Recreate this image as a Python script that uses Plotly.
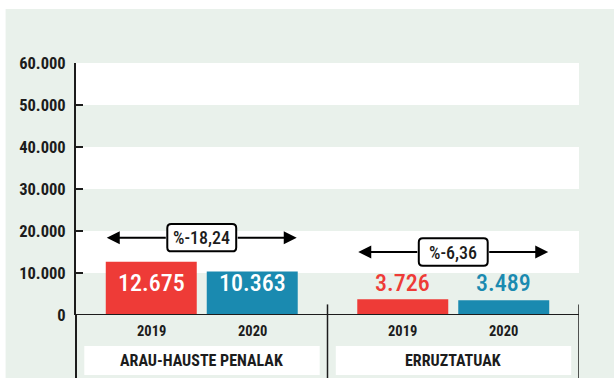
import plotly.graph_objects as go

# --- data ---------------------------------------------------------------
groups = ["ARAU-HAUSTE PENALAK", "ERRUZTATUAK"]
years = ["2019", "2020"]
values_2019 = [12675, 3726]
values_2020 = [10363, 3489]
y_ticks = [0, 10000, 20000, 30000, 40000, 50000, 60000]

# --- styling --------------------------------------------------------------
RED = "#ee3b37"
BLUE = "#1a8ab0"
BG = "#e9f1eb"
INK = "#1c1c1c"
NARROW = "Roboto Condensed, Liberation Sans Narrow, sans-serif"

BARGAP = 0.197
BARGROUPGAP = 0.099
slot = (1 - BARGAP) / 2          # width of one year's slot inside a group
half_bar_span = slot - slot * BARGROUPGAP / 2  # group centre -> outer bar edge

arrow_y = [18400, 15000]          # height of the change arrows per group
label_y = 7700                    # height of the value labels

fmt_thousands = lambda v: f"{v:,}".replace(",", ".")

x_pos = list(range(len(groups)))

fig = go.Figure()
fig.add_trace(go.Bar(x=x_pos, y=values_2019, name=years[0],
                     marker=dict(color=RED, line=dict(width=0)),
                     hoverinfo="skip"))
fig.add_trace(go.Bar(x=x_pos, y=values_2020, name=years[1],
                     marker=dict(color=BLUE, line=dict(width=0)),
                     hoverinfo="skip"))

shapes = []
annotations = []

# page background (white strip along the top/left edge)
shapes.append(dict(type="rect", xref="paper", yref="paper",
                   x0=-0.14, x1=1.08, y0=-0.26, y1=1.214,
                   fillcolor=BG, line=dict(width=0), layer="below"))

# alternating white bands
for lo, hi in zip(y_ticks[1::2], y_ticks[2::2]):
    shapes.append(dict(type="rect", xref="paper", yref="y",
                       x0=0, x1=1, y0=lo, y1=hi,
                       fillcolor="white", line=dict(width=0), layer="below"))

# axis extension, baseline and group separators
shapes.append(dict(type="line", xref="paper", yref="paper",
                   x0=0, x1=0, y0=0, y1=-0.26,
                   line=dict(color=INK, width=2)))
shapes.append(dict(type="line", xref="paper", yref="y",
                   x0=0, x1=1, y0=0, y1=0,
                   line=dict(color=INK, width=2)))
for xs in [0.5, 1.5]:
    shapes.append(dict(type="line", xref="x", yref="paper",
                       x0=xs, x1=xs, y0=0.042, y1=-0.26,
                       line=dict(color=INK, width=1.5)))


def rounded_rect(x0, x1, y0, y1, rx, ry):
    return (f"M {x0 + rx},{y0} L {x1 - rx},{y0} Q {x1},{y0} {x1},{y0 + ry} "
            f"L {x1},{y1 - ry} Q {x1},{y1} {x1 - rx},{y1} "
            f"L {x0 + rx},{y1} Q {x0},{y1} {x0},{y1 - ry} "
            f"L {x0},{y0 + ry} Q {x0},{y0} {x0 + rx},{y0} Z")


box_hw = 0.137   # half width of the percentage box (x units)
box_hh = 3250    # half height of the percentage box (y units)

for i, g in enumerate(groups):
    v19, v20 = values_2019[i], values_2020[i]
    inside = i == 0

    # value labels and year labels
    for j, (v, col) in enumerate([(v19, RED), (v20, BLUE)]):
        cx = i + (j - 0.5) * slot
        annotations.append(dict(x=cx, y=label_y, xref="x", yref="y",
                                text=fmt_thousands(v), showarrow=False,
                                yanchor="middle",
                                font=dict(family=NARROW, size=24,
                                          weight=500,
                                          color="white" if inside else col)))
        annotations.append(dict(x=cx, y=-0.067, xref="x", yref="paper",
                                text=f"<b>{years[j]}</b>", showarrow=False,
                                yanchor="middle",
                                font=dict(family=NARROW, size=14.5, color=INK)))

    # category label box
    shapes.append(dict(type="rect", xref="x", yref="paper",
                       x0=i - 0.467, x1=i + 0.469, y0=-0.238, y1=-0.123,
                       fillcolor="white", line=dict(width=0)))
    annotations.append(dict(x=i, y=-0.18, xref="x", yref="paper",
                            text=f"<b>{g}</b>", showarrow=False,
                            yanchor="middle",
                            font=dict(family=NARROW, size=16, color=INK)))

    # change arrows with percentage box
    ay = arrow_y[i]
    pct = (v20 - v19) / v19 * 100
    for side in (-1, 1):
        annotations.append(dict(x=i + side * (half_bar_span - 0.004), y=ay,
                                ax=i + side * box_hw, ay=ay,
                                xref="x", yref="y", axref="x", ayref="y",
                                text="", showarrow=True, arrowhead=2,
                                arrowsize=1.3, arrowwidth=2,
                                arrowcolor="black", standoff=0,
                                startstandoff=0))
    shapes.append(dict(type="path", xref="x", yref="y",
                       path=rounded_rect(i - box_hw, i + box_hw,
                                         ay - box_hh, ay + box_hh, 0.016, 950),
                       fillcolor="white", line=dict(color="black", width=2)))
    annotations.append(dict(x=i, y=ay, xref="x", yref="y",
                            text=f"%{pct:.2f}".replace(".", ","),
                            showarrow=False, yanchor="middle",
                            font=dict(family=NARROW, size=18, weight=500,
                                      color=INK)))

fig.update_layout(
    width=614, height=378,
    margin=dict(l=76, r=35, t=63, b=63),
    paper_bgcolor="white", plot_bgcolor="rgba(0,0,0,0)",
    barmode="group", bargap=BARGAP, bargroupgap=BARGROUPGAP,
    showlegend=False, separators=",.",
    shapes=shapes, annotations=annotations,
    xaxis=dict(visible=False, range=[-0.5, 1.5], fixedrange=True),
    yaxis=dict(range=[0, 60000], tickvals=y_ticks, tickformat=",d",
               showgrid=False, zeroline=False,
               showline=True, linecolor=INK, linewidth=2,
               ticks="inside", ticklen=7, tickwidth=1.5, tickcolor=INK,
               ticklabelstandoff=5,
               tickfont=dict(family=NARROW, size=16.5, color=INK,
                             weight="bold"),
               fixedrange=True),
)

fig.write_html("out.html")
